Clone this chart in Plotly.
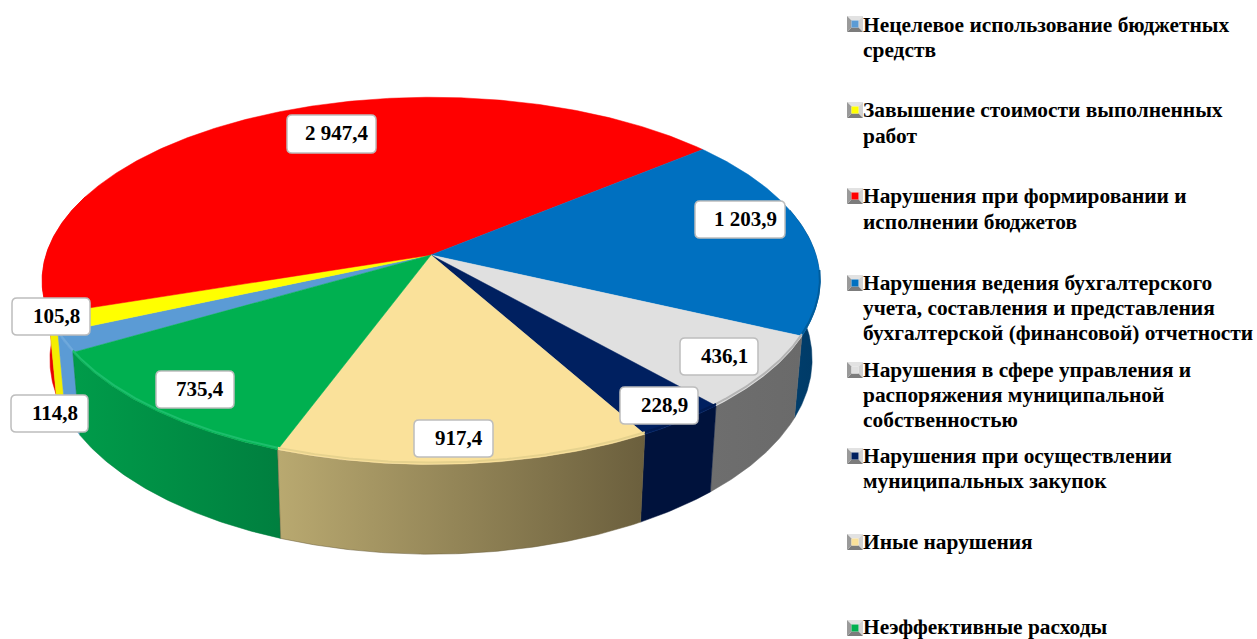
import numpy as np
import plotly.graph_objects as go

# ---- data (legend order, clockwise on the pie) ----
categories = [
    ["Нецелевое использование бюджетных", "средств"],
    ["Завышение стоимости выполненных", "работ"],
    ["Нарушения при формировании и", "исполнении бюджетов"],
    ["Нарушения ведения бухгалтерского", "учета, составления и представления", "бухгалтерской (финансовой) отчетности"],
    ["Нарушения в сфере управления и", "распоряжения муниципальной", "собственностью"],
    ["Нарушения при осуществлении", "муниципальных закупок"],
    ["Иные нарушения"],
    ["Неэффективные расходы"],
]
values = [114.8, 105.8, 2947.4, 1203.9, 436.1, 228.9, 917.4, 735.4]
value_labels = ["114,8", "105,8", "2 947,4", "1 203,9", "436,1", "228,9", "917,4", "735,4"]

# ---- styles ----
top_colors = ["#5b9bd5", "#ffff00", "#ff0000", "#0070c0", "#e0e0e0", "#002060", "#fae19a", "#00b050"]
wall_left = ["#5b9bd5", "#f4ee00", "#e80000", "#003f6e", "#6e6e6e", "#00123c", "#b9a970", "#009c4a"]
wall_right = ["#5b9bd5", "#f4ee00", "#e80000", "#003a66", "#6a6a6a", "#00123c", "#6b5f3d", "#007f3f"]
rim_colors = ["#6fa9dc", "#f8f400", "#f00000", "#005c9c", "#b4b4b4", "#001a50", "#e6d28e", "#1cbe6c"]
label_boxes = [(11, 395, 88, 432), (12, 298, 90, 335), (287, 115, 376, 153), (695, 201, 785, 238),
               (680, 338, 758, 375), (620, 387, 698, 424), (414, 420, 493, 457), (156, 371, 234, 408)]
legend_lines = [[25, 50], [110, 136], [196, 222], [283, 308, 333], [370, 395, 420], [456, 481], [542], [627]]
legend_keys = [24, 110, 196, 283, 370, 456, 542, 628]
FONT = "Liberation Serif"

# ---- pie projection ----
CX, CY = 431, 255
A, B, K = 385, 180, 0.141
DEPTH, BOTTOM_SCALE = 77, 0.98
START_DEG = 149.8  # boundary green / light blue


def top_pt(t):
    w = 1 - K * np.sin(t)
    return CX + A * np.cos(t) / w, CY + B * np.sin(t) / w


def bot_pt(t):
    w = 1 - K * np.sin(t)
    return CX + BOTTOM_SCALE * A * np.cos(t) / w, CY + B * np.sin(t) / w + DEPTH / w


spans = np.array(values) / sum(values) * 2 * np.pi
starts = np.radians(START_DEG) + np.concatenate([[0], np.cumsum(spans)[:-1]])
arcs = [np.linspace(s, s + d, max(int(np.degrees(d) * 2), 4)) for s, d in zip(starts, spans)]
# the slices after the red one wrap past a full turn: keep their angles around zero
for j in (3, 4, 5, 6, 7):
    arcs[j] = arcs[j] - 2 * np.pi

fig = go.Figure()

# walls, back to front
for i in [2, 3, 1, 0, 7, 4, 5, 6]:
    t = arcs[i]
    if i == 2:
        t = t[t < np.radians(200)]
    if i == 3:
        t = t[t > -np.radians(15)]
    tx, ty = top_pt(t)
    bx, by = bot_pt(t)
    fig.add_trace(go.Scatter(
        x=np.r_[tx, bx[::-1], tx[0]], y=np.r_[ty, by[::-1], ty[0]],
        mode="lines", fill="toself", hoverinfo="skip", showlegend=False,
        line=dict(width=0.5, color=wall_right[i]),
        fillgradient=dict(type="horizontal",
                          colorscale=[[0, wall_left[i]], [1, wall_right[i]]]),
    ))

# top faces
for i, t in enumerate(arcs):
    tx, ty = top_pt(t)
    fig.add_trace(go.Scatter(
        x=np.r_[CX, tx, CX], y=np.r_[CY, ty, CY],
        mode="lines", fill="toself", fillcolor=top_colors[i], hoverinfo="skip", showlegend=False,
        line=dict(width=0.5, color=top_colors[i]),
    ))
# soft rim bevel on the visible front edge only
for i, t in enumerate(arcs):
    if i == 2:
        continue
    vis = t[t > np.radians(5)] if i == 3 else t
    tx, ty = top_pt(vis)
    fig.add_trace(go.Scatter(
        x=tx, y=ty - 2, mode="lines", hoverinfo="skip", showlegend=False,
        line=dict(width=2, color=rim_colors[i]),
    ))

shapes = []
annotations = []


def rounded(x0, y0, x1, y1, r=5):
    return (f"M{x0+r},{y0} L{x1-r},{y0} Q{x1},{y0} {x1},{y0+r} L{x1},{y1-r} Q{x1},{y1} {x1-r},{y1} "
            f"L{x0+r},{y1} Q{x0},{y1} {x0},{y1-r} L{x0},{y0+r} Q{x0},{y0} {x0+r},{y0} Z")


for (x0, y0, x1, y1), lab in zip(label_boxes, value_labels):
    shapes.append(dict(type="path", path=rounded(x0, y0, x1, y1), fillcolor="white",
                       line=dict(color="#bdbdbd", width=1.5), xref="x", yref="y"))
    annotations.append(dict(x=(x0 + x1) / 2 + 5, y=(y0 + y1) / 2 - 1, text=f"<b>{lab}</b>", showarrow=False,
                            xref="x", yref="y", xanchor="center", yanchor="middle",
                            font=dict(family=FONT, size=21, color="black")))

# legend
KX, HALF, IN = 855, 8, 3.5
for name, ys, ky, col in zip(categories, legend_lines, legend_keys, top_colors):
    x0, x1, y0, y1 = KX - HALF, KX + HALF, ky - HALF, ky + HALF
    a0, a1, b0, b1 = KX - IN, KX + IN, ky - IN, ky + IN
    for pts, c in [
        ([(x0, y0), (x1, y0), (a1, b0), (a0, b0)], "#e2e2e2"),
        ([(x1, y0), (x1, y1), (a1, b1), (a1, b0)], "#d2d2d2"),
        ([(x0, y1), (x1, y1), (a1, b1), (a0, b1)], "#7c7c7c"),
        ([(x0, y0), (x0, y1), (a0, b1), (a0, b0)], "#9a9a9a"),
        ([(a0, b0), (a1, b0), (a1, b1), (a0, b1)], col),
    ]:
        path = "M" + " L".join(f"{px},{py}" for px, py in pts) + " Z"
        shapes.append(dict(type="path", path=path, fillcolor=c, line=dict(width=0), xref="x", yref="y"))
    for line, y in zip(name, ys):
        annotations.append(dict(x=860.5, y=y, text=f"<b>{line}</b>", showarrow=False, align="left",
                                xref="x", yref="y", xanchor="left", yanchor="middle",
                                font=dict(family=FONT, size=21.4, color="black")))

fig.update_layout(
    width=1257, height=639, margin=dict(l=0, r=0, t=0, b=0),
    paper_bgcolor="white", plot_bgcolor="white", showlegend=False,
    shapes=shapes, annotations=annotations,
    xaxis=dict(range=[0, 1257], visible=False, fixedrange=True),
    yaxis=dict(range=[639, 0], visible=False, fixedrange=True),
)
fig.write_html("out.html", post_script="document.body.style.margin='0';document.body.style.overflow='hidden';",
               config=dict(displayModeBar=False))
